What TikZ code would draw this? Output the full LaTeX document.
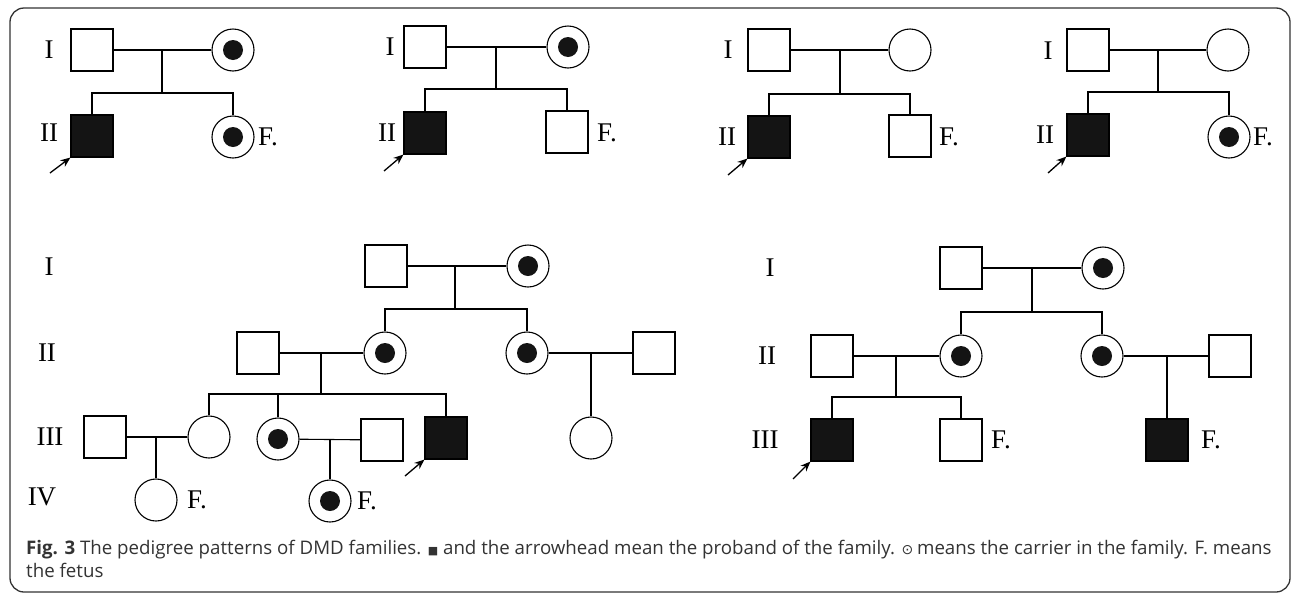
\documentclass[tikz,border=0pt]{standalone}
\usepackage{fontspec}
\setmainfont{Liberation Serif}
\newfontfamily\capfont{Open Sans}
\newfontfamily\symfont{DejaVu Sans}
\usetikzlibrary{arrows.meta}
\begin{document}
\begin{tikzpicture}[x=1pt,y=-1pt,
  ind/.style={draw, line width=1.1pt, minimum size=42pt, inner sep=0pt},
  male/.style={ind, rectangle},
  female/.style={ind, circle},
  aff/.style={male, fill=black!92},
  carrier/.style={female, path picture={\fill[black!92] (path picture bounding box.center) circle (10pt);}},
  gen/.style={font=\fontsize{27}{27}\selectfont, inner sep=0pt},
  fet/.style={font=\fontsize{27}{27}\selectfont, inner sep=0pt, anchor=west},
  rel/.style={line width=1.1pt},
  proband/.style={-{Stealth[length=10pt,width=8pt]}, line width=1.3pt}]
\useasboundingbox (0,0) rectangle (1293,595);
\draw[line width=1.3pt, rounded corners=14pt, black!80] (10,8) rectangle (1290,592);

% ---------- Family 1 ----------
\node[gen] (f1gI) at (49,50) {I};
\node[gen] (f1gII) at (49,133) {II};
\node[male] (f1a) at (92,50) {};
\node[carrier] (f1b) at (233,50) {};
\node[aff] (f1c) at (92,136) {};
\node[carrier] (f1d) at (233,137) {};
\node[fet] (f1f) at (258,137) {F.};
\coordinate (f1m) at (162,50);
\coordinate (f1s) at (162,93);
\coordinate (f1t) at (50,173);
\draw[rel] (f1a) -- (f1b);
\draw[rel] (f1m) -- (f1s);
\draw[rel] (f1c.north) |- (f1s) -| (f1d.north);
\draw[proband] (f1t) -- (f1c.south west);

% ---------- Family 2 ----------
\node[gen] (f2gI) at (390,47) {I};
\node[gen] (f2gII) at (387,133) {II};
\node[male] (f2a) at (425,47) {};
\node[carrier] (f2b) at (568,47) {};
\node[aff] (f2c) at (425,133) {};
\node[male] (f2d) at (567,132) {};
\node[fet] (f2f) at (597,133) {F.};
\coordinate (f2m) at (496,47);
\coordinate (f2s) at (496,89);
\coordinate (f2t) at (384,171);
\draw[rel] (f2a) -- (f2b);
\draw[rel] (f2m) -- (f2s);
\draw[rel] (f2c.north) |- (f2s) -| (f2d.north);
\draw[proband] (f2t) -- (f2c.south west);

% ---------- Family 3 ----------
\node[gen] (f3gI) at (728,50) {I};
\node[gen] (f3gII) at (727,137) {II};
\node[male] (f3a) at (769,50) {};
\node[female] (f3b) at (910,50) {};
\node[aff] (f3c) at (769,137) {};
\node[male] (f3d) at (910,136) {};
\node[fet] (f3f) at (939,137) {F.};
\coordinate (f3m) at (840,50);
\coordinate (f3s) at (840,94);
\coordinate (f3t) at (728,175);
\draw[rel] (f3a) -- (f3b);
\draw[rel] (f3m) -- (f3s);
\draw[rel] (f3c.north) |- (f3s) -| (f3d.north);
\draw[proband] (f3t) -- (f3c.south west);

% ---------- Family 4 ----------
\node[gen] (f4gI) at (1048,51) {I};
\node[gen] (f4gII) at (1045,135) {II};
\node[male] (f4a) at (1088,50) {};
\node[female] (f4b) at (1228,50) {};
\node[aff] (f4c) at (1088,135) {};
\node[carrier] (f4d) at (1229,137) {};
\node[fet] (f4f) at (1253,137) {F.};
\coordinate (f4m) at (1158,50);
\coordinate (f4s) at (1158,92);
\coordinate (f4t) at (1048,173);
\draw[rel] (f4a) -- (f4b);
\draw[rel] (f4m) -- (f4s);
\draw[rel] (f4c.north) |- (f4s) -| (f4d.north);
\draw[proband] (f4t) -- (f4c.south west);

% ---------- Family 5 ----------
\node[gen] (f5gI) at (49,267) {I};
\node[gen] (f5gII) at (47,353) {II};
\node[gen] (f5gIII) at (50,437) {III};
\node[gen] (f5gIV) at (42,497) {IV};
\node[male] (f5a) at (386,266) {};
\node[carrier] (f5b) at (528,266) {};
\node[male] (f5h0) at (258,353) {};
\node[carrier] (f5A) at (385,353) {};
\node[carrier] (f5B) at (527,353) {};
\node[male] (f5h3) at (654,353) {};
\node[male] (f5h1) at (105,437) {};
\node[female] (f5c1) at (209,437) {};
\node[carrier] (f5c2) at (278,439) {};
\node[male] (f5h2) at (382,440) {};
\node[aff] (f5c3) at (446,438) {};
\node[female] (f5r) at (591,438) {};
\node[female] (f5g1) at (156,500) {};
\node[carrier] (f5g2) at (330,501) {};
\node[fet] (f5f1) at (187,500) {F.};
\node[fet] (f5f2) at (357,501) {F.};
\coordinate (f5m1) at (455,266);
\coordinate (f5s1) at (455,309);
\coordinate (f5m2) at (321,353);
\coordinate (f5s2) at (321,394);
\coordinate (f5m3) at (591,353);
\coordinate (f5m4) at (156,437);
\coordinate (f5m5) at (330,439);
\coordinate (f5t) at (405,476);
\draw[rel] (f5a) -- (f5b);
\draw[rel] (f5m1) -- (f5s1);
\draw[rel] (f5A.north) |- (f5s1) -| (f5B.north);
\draw[rel] (f5h0) -- (f5A);
\draw[rel] (f5B) -- (f5h3);
\draw[rel] (f5m2) -- (f5s2);
\draw[rel] (f5c1.north) |- (f5s2) -| (f5c3.north);
\draw[rel] (f5c2.north) -- (f5c2.north |- f5s2);
\draw[rel] (f5m3) -- (f5r.north);
\draw[rel] (f5h1) -- (f5c1);
\draw[rel] (f5m4) -- (f5g1.north);
\draw[rel] (f5c2) -- (f5h2);
\draw[rel] (f5m5) -- (f5g2.north);
\draw[proband] (f5t) -- (f5c3.south west);

% ---------- Family 6 ----------
\node[gen] (f6gI) at (770,268) {I};
\node[gen] (f6gII) at (767,356) {II};
\node[gen] (f6gIII) at (765,440) {III};
\node[male] (f6a) at (961,268) {};
\node[carrier] (f6b) at (1103,268) {};
\node[male] (f6h0) at (832,356) {};
\node[carrier] (f6A) at (961,356) {};
\node[carrier] (f6B) at (1102,356) {};
\node[male] (f6h3) at (1230,356) {};
\node[aff] (f6c1) at (832,440) {};
\node[male] (f6c2) at (961,440) {};
\node[aff] (f6r) at (1167,440) {};
\node[fet] (f6f1) at (991,440) {F.};
\node[fet] (f6f2) at (1201,440) {F.};
\coordinate (f6m1) at (1032,268);
\coordinate (f6s1) at (1032,312);
\coordinate (f6m2) at (896,356);
\coordinate (f6s2) at (896,397);
\coordinate (f6m3) at (1167,356);
\coordinate (f6t) at (793,479);
\draw[rel] (f6a) -- (f6b);
\draw[rel] (f6m1) -- (f6s1);
\draw[rel] (f6A.north) |- (f6s1) -| (f6B.north);
\draw[rel] (f6h0) -- (f6A);
\draw[rel] (f6B) -- (f6h3);
\draw[rel] (f6m2) -- (f6s2);
\draw[rel] (f6c1.north) |- (f6s2) -| (f6c2.north);
\draw[rel] (f6m3) -- (f6r.north);
\draw[proband] (f6t) -- (f6c1.south west);

% ---------- Caption ----------
\node[anchor=base west, align=left, inner sep=0pt, text=black!80,
      font=\capfont\fontsize{18.7}{23}\selectfont] (cap) at (26,577)
  {\textbf{Fig. 3} The pedigree patterns of DMD families. {\symfont\fontsize{11}{11}\selectfont ■} and the arrowhead mean the proband of the family. {\symfont\fontsize{14}{14}\selectfont ⊙}\kern-1pt{} means the carrier in the family. F. means\\
   the fetus};
\end{tikzpicture}
\end{document}
